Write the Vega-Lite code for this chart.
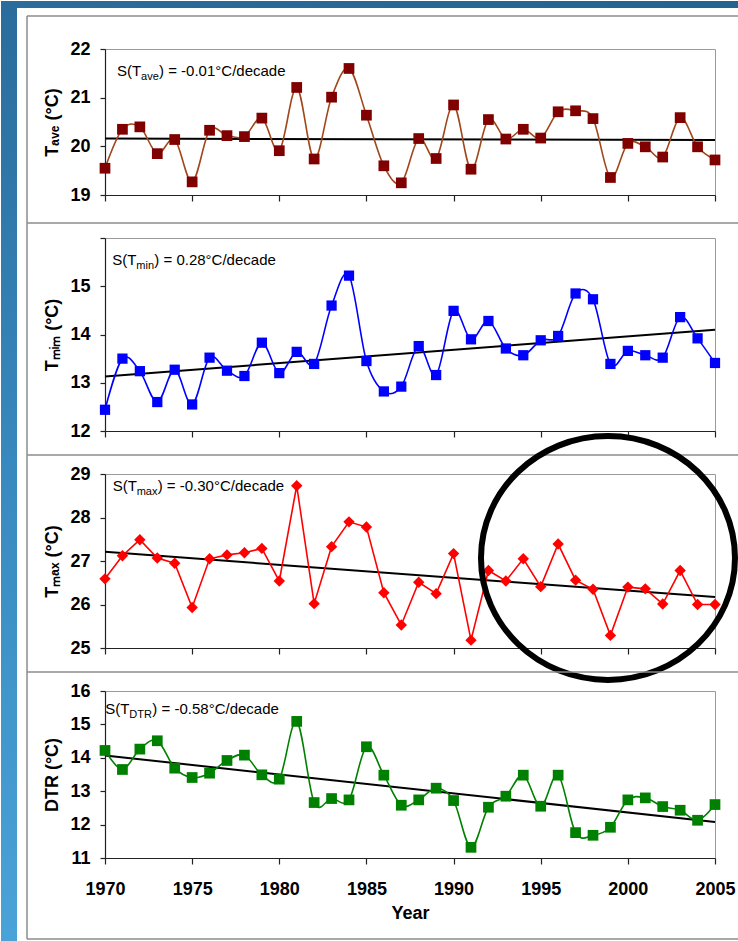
{
  "$schema": "https://vega.github.io/schema/vega-lite/v6.json",
  "padding": 0,
  "autosize": {"type": "pad"},
  "background": "white",
  "bounds": "flush",
  "spacing": 43,
  "config": {
    "font": "Liberation Sans",
    "view": {"stroke": "#9a9a9a", "strokeWidth": 1},
    "axis": {
      "labelFont": "Liberation Sans", "labelFontWeight": "bold", "labelFontSize": 18, "labelColor": "black",
      "titleFont": "Liberation Sans", "titleFontWeight": "bold", "titleFontSize": 18, "titleColor": "black",
      "gridColor": "#c8c8c8", "gridWidth": 1.2, "domainColor": "#222222", "domainWidth": 1.2,
      "tickColor": "#222222", "tickWidth": 1.2, "tickSize": 5,
      "labelOverlap": false, "labelFlush": false, "labelBound": false
    },
    "axisY": {"labelPadding": 10, "titlePadding": 8},
    "text": {"font": "Liberation Sans", "color": "black"}
  },
  "datasets": {
    "series": [
      {"year": 1970, "Tave": 19.55, "Tmin": 12.44, "Tmax": 26.59, "DTR": 14.22},
      {"year": 1971, "Tave": 20.35, "Tmin": 13.50, "Tmax": 27.12, "DTR": 13.65},
      {"year": 1972, "Tave": 20.40, "Tmin": 13.24, "Tmax": 27.49, "DTR": 14.26},
      {"year": 1973, "Tave": 19.85, "Tmin": 12.60, "Tmax": 27.07, "DTR": 14.51},
      {"year": 1974, "Tave": 20.14, "Tmin": 13.27, "Tmax": 26.95, "DTR": 13.69},
      {"year": 1975, "Tave": 19.27, "Tmin": 12.55, "Tmax": 25.93, "DTR": 13.41},
      {"year": 1976, "Tave": 20.33, "Tmin": 13.52, "Tmax": 27.05, "DTR": 13.54},
      {"year": 1977, "Tave": 20.22, "Tmin": 13.25, "Tmax": 27.14, "DTR": 13.92},
      {"year": 1978, "Tave": 20.20, "Tmin": 13.14, "Tmax": 27.19, "DTR": 14.08},
      {"year": 1979, "Tave": 20.58, "Tmin": 13.83, "Tmax": 27.29, "DTR": 13.49},
      {"year": 1980, "Tave": 19.91, "Tmin": 13.20, "Tmax": 26.54, "DTR": 13.36},
      {"year": 1981, "Tave": 21.21, "Tmin": 13.64, "Tmax": 28.73, "DTR": 15.09},
      {"year": 1982, "Tave": 19.74, "Tmin": 13.39, "Tmax": 26.02, "DTR": 12.66},
      {"year": 1983, "Tave": 21.01, "Tmin": 14.60, "Tmax": 27.33, "DTR": 12.78},
      {"year": 1984, "Tave": 21.60, "Tmin": 15.22, "Tmax": 27.90, "DTR": 12.74},
      {"year": 1985, "Tave": 20.64, "Tmin": 13.45, "Tmax": 27.78, "DTR": 14.33},
      {"year": 1986, "Tave": 19.60, "Tmin": 12.82, "Tmax": 26.27, "DTR": 13.48},
      {"year": 1987, "Tave": 19.25, "Tmin": 12.92, "Tmax": 25.53, "DTR": 12.58},
      {"year": 1988, "Tave": 20.16, "Tmin": 13.76, "Tmax": 26.51, "DTR": 12.74},
      {"year": 1989, "Tave": 19.75, "Tmin": 13.16, "Tmax": 26.25, "DTR": 13.09},
      {"year": 1990, "Tave": 20.85, "Tmin": 14.49, "Tmax": 27.17, "DTR": 12.72},
      {"year": 1991, "Tave": 19.53, "Tmin": 13.90, "Tmax": 25.18, "DTR": 11.32},
      {"year": 1992, "Tave": 20.55, "Tmin": 14.28, "Tmax": 26.78, "DTR": 12.52},
      {"year": 1993, "Tave": 20.15, "Tmin": 13.71, "Tmax": 26.54, "DTR": 12.85},
      {"year": 1994, "Tave": 20.35, "Tmin": 13.57, "Tmax": 27.05, "DTR": 13.48},
      {"year": 1995, "Tave": 20.17, "Tmin": 13.88, "Tmax": 26.41, "DTR": 12.55},
      {"year": 1996, "Tave": 20.71, "Tmin": 13.97, "Tmax": 27.39, "DTR": 13.48},
      {"year": 1997, "Tave": 20.73, "Tmin": 14.85, "Tmax": 26.56, "DTR": 11.76},
      {"year": 1998, "Tave": 20.57, "Tmin": 14.73, "Tmax": 26.35, "DTR": 11.68},
      {"year": 1999, "Tave": 19.36, "Tmin": 13.39, "Tmax": 25.29, "DTR": 11.92},
      {"year": 2000, "Tave": 20.06, "Tmin": 13.66, "Tmax": 26.40, "DTR": 12.74},
      {"year": 2001, "Tave": 19.99, "Tmin": 13.57, "Tmax": 26.36, "DTR": 12.80},
      {"year": 2002, "Tave": 19.78, "Tmin": 13.52, "Tmax": 26.01, "DTR": 12.54},
      {"year": 2003, "Tave": 20.59, "Tmin": 14.36, "Tmax": 26.78, "DTR": 12.43},
      {"year": 2004, "Tave": 19.99, "Tmin": 13.92, "Tmax": 26.00, "DTR": 12.13},
      {"year": 2005, "Tave": 19.72, "Tmin": 13.41, "Tmax": 26.00, "DTR": 12.60}
    ],
    "trend": [
      {"year": 1970, "Tave": 20.16, "Tmin": 13.13, "Tmax": 27.21, "DTR": 14.07},
      {"year": 2005, "Tave": 20.13, "Tmin": 14.10, "Tmax": 26.17, "DTR": 12.08}
    ]
  },
  "vconcat": [
    {
      "width": 610, "height": 146,
      "layer": [
        {"data": {"values": [{}]},
         "mark": {"type": "rect", "fill": {"gradient": "linear", "x1": 0, "y1": 0, "x2": 0, "y2": 1, "stops": [{"offset": 0, "color": "#2a6c9b"}, {"offset": 0.5, "color": "#3889bf"}, {"offset": 1, "color": "#4aa3d8"}]}},
         "encoding": {"x": {"datum": 1964.033, "scale": {"domain": [1970, 2005], "nice": false, "zero": false}}, "x2": {"datum": 1964.951},
                      "y": {"datum": 22.9863, "scale": {"domain": [19, 22], "nice": false, "zero": false}}, "y2": {"datum": 3.672}}},
        {"data": {"values": [{}]},
         "mark": {"type": "rect", "fill": {"gradient": "linear", "x1": 0, "y1": 0, "x2": 1, "y2": 0, "stops": [{"offset": 0, "color": "#2a6c9b"}, {"offset": 1, "color": "#226391"}]}},
         "encoding": {"x": {"datum": 1964.033, "scale": {"domain": [1970, 2005], "nice": false, "zero": false}}, "x2": {"datum": 2006.35},
                      "y": {"datum": 22.9863, "scale": {"domain": [19, 22], "nice": false, "zero": false}}, "y2": {"datum": 22.8425}}},
        {"data": {"values": [{}]}, "mark": {"type": "rule", "color": "#8c8c8c", "strokeWidth": 1.5},
         "encoding": {"x": {"datum": 1965.525, "scale": {"domain": [1970, 2005], "nice": false, "zero": false}}, "x2": {"datum": 2006.35},
                      "y": {"datum": 22.678, "scale": {"domain": [19, 22], "nice": false, "zero": false}}}},
        {"data": {"values": [{}]}, "mark": {"type": "rule", "color": "#8c8c8c", "strokeWidth": 1.5},
         "encoding": {"x": {"datum": 1965.525, "scale": {"domain": [1970, 2005], "nice": false, "zero": false}},
                      "y": {"datum": 22.678, "scale": {"domain": [19, 22], "nice": false, "zero": false}}, "y2": {"datum": 18.425}}},
        {"data": {"name": "trend"}, "mark": {"type": "line", "color": "black", "strokeWidth": 2},
         "encoding": {
           "x": {"field": "year", "type": "quantitative", "scale": {"domain": [1970, 2005], "nice": false, "zero": false},
                 "axis": {"values": [1970, 1975, 1980, 1985, 1990, 1995, 2000, 2005], "tickCount": 20, "labels": false, "title": null, "tickSize": 6}},
           "y": {"field": "Tave", "type": "quantitative", "scale": {"domain": [19, 22], "nice": false, "zero": false},
                 "axis": {"values": [19, 20, 21, 22], "tickCount": 20, "format": "d", "labelOverlap": false, "title": "Tₐᵥₑ (°C)"}}}},
        {"data": {"name": "series"},
         "mark": {"type": "line", "interpolate": "cardinal", "color": "#a0461a", "strokeWidth": 1.6,
                  "point": {"shape": "square", "filled": true, "size": 115, "color": "#800000", "opacity": 1}},
         "encoding": {
           "x": {"field": "year", "type": "quantitative", "scale": {"domain": [1970, 2005], "nice": false, "zero": false},
                 "axis": {"values": [1970, 1975, 1980, 1985, 1990, 1995, 2000, 2005], "tickCount": 20, "labels": false, "title": null, "tickSize": 6}},
           "y": {"field": "Tave", "type": "quantitative", "scale": {"domain": [19, 22], "nice": false, "zero": false},
                 "axis": {"values": [19, 20, 21, 22], "tickCount": 20, "format": "d", "labelOverlap": false, "title": "Tₐᵥₑ (°C)"}}}},
        {"data": {"values": [{}]}, "mark": {"type": "text", "text": "S(T", "align": "left", "baseline": "alphabetic", "fontSize": 15},
         "encoding": {"x": {"datum": 1970.69}, "y": {"datum": 21.445}}},
        {"data": {"values": [{}]}, "mark": {"type": "text", "text": "ave", "align": "left", "baseline": "alphabetic", "fontSize": 11, "dx": 24, "dy": 4},
         "encoding": {"x": {"datum": 1970.69}, "y": {"datum": 21.445}}},
        {"data": {"values": [{}]}, "mark": {"type": "text", "text": ") = -0.01°C/decade", "align": "left", "baseline": "alphabetic", "fontSize": 15, "dx": 42},
         "encoding": {"x": {"datum": 1970.69}, "y": {"datum": 21.445}}}
      ]
    },
    {
      "width": 610, "height": 193,
      "layer": [
        {"data": {"values": [{}]}, "mark": {"type": "rule", "color": "#8c8c8c", "strokeWidth": 1.5},
         "encoding": {"x": {"datum": 1965.525, "scale": {"domain": [1970, 2005], "nice": false, "zero": false}}, "x2": {"datum": 2006.35},
                      "y": {"datum": 16.311, "scale": {"domain": [12, 16], "nice": false, "zero": false}}}},
        {"data": {"values": [{}]}, "mark": {"type": "rule", "color": "#8c8c8c", "strokeWidth": 1.5},
         "encoding": {"x": {"datum": 1965.525, "scale": {"domain": [1970, 2005], "nice": false, "zero": false}},
                      "y": {"datum": 16.311, "scale": {"domain": [12, 16], "nice": false, "zero": false}}, "y2": {"datum": 11.503}}},
        {"data": {"name": "trend"}, "mark": {"type": "line", "color": "black", "strokeWidth": 2},
         "encoding": {
           "x": {"field": "year", "type": "quantitative", "scale": {"domain": [1970, 2005], "nice": false, "zero": false},
                 "axis": {"values": [1970, 1975, 1980, 1985, 1990, 1995, 2000, 2005], "tickCount": 20, "labels": false, "title": null, "tickSize": 6}},
           "y": {"field": "Tmin", "type": "quantitative", "scale": {"domain": [12, 16], "nice": false, "zero": false},
                 "axis": {"values": [12, 13, 14, 15, 16], "tickCount": 20, "format": "d", "labelOverlap": false, "labelExpr": "datum.value == 16 ? '' : datum.label", "title": "Tₘᵢₘ (°C)"}}}},
        {"data": {"name": "series"},
         "mark": {"type": "line", "interpolate": "cardinal", "color": "#0000ff", "strokeWidth": 1.6,
                  "point": {"shape": "square", "filled": true, "size": 105, "color": "#0000ff", "opacity": 1}},
         "encoding": {
           "x": {"field": "year", "type": "quantitative", "scale": {"domain": [1970, 2005], "nice": false, "zero": false},
                 "axis": {"values": [1970, 1975, 1980, 1985, 1990, 1995, 2000, 2005], "tickCount": 20, "labels": false, "title": null, "tickSize": 6}},
           "y": {"field": "Tmin", "type": "quantitative", "scale": {"domain": [12, 16], "nice": false, "zero": false},
                 "axis": {"values": [12, 13, 14, 15, 16], "tickCount": 20, "format": "d", "labelOverlap": false, "labelExpr": "datum.value == 16 ? '' : datum.label", "title": "Tₘᵢₘ (°C)"}}}},
        {"data": {"values": [{}]}, "mark": {"type": "text", "text": "S(T", "align": "left", "baseline": "alphabetic", "fontSize": 15},
         "encoding": {"x": {"datum": 1970.42}, "y": {"datum": 15.436}}},
        {"data": {"values": [{}]}, "mark": {"type": "text", "text": "min", "align": "left", "baseline": "alphabetic", "fontSize": 11, "dx": 24, "dy": 4},
         "encoding": {"x": {"datum": 1970.42}, "y": {"datum": 15.436}}},
        {"data": {"values": [{}]}, "mark": {"type": "text", "text": ") = 0.28°C/decade", "align": "left", "baseline": "alphabetic", "fontSize": 15, "dx": 42},
         "encoding": {"x": {"datum": 1970.42}, "y": {"datum": 15.436}}}
      ]
    },
    {
      "width": 610, "height": 174,
      "layer": [
        {"data": {"values": [{}]}, "mark": {"type": "rule", "color": "#8c8c8c", "strokeWidth": 1.5},
         "encoding": {"x": {"datum": 1965.525, "scale": {"domain": [1970, 2005], "nice": false, "zero": false}}, "x2": {"datum": 2006.35},
                      "y": {"datum": 29.437, "scale": {"domain": [25, 29], "nice": false, "zero": false}}}},
        {"data": {"values": [{}]}, "mark": {"type": "rule", "color": "#8c8c8c", "strokeWidth": 1.5},
         "encoding": {"x": {"datum": 1965.525, "scale": {"domain": [1970, 2005], "nice": false, "zero": false}},
                      "y": {"datum": 29.437, "scale": {"domain": [25, 29], "nice": false, "zero": false}}, "y2": {"datum": 24.448}}},
        {"data": {"name": "trend"}, "mark": {"type": "line", "color": "black", "strokeWidth": 2},
         "encoding": {
           "x": {"field": "year", "type": "quantitative", "scale": {"domain": [1970, 2005], "nice": false, "zero": false},
                 "axis": {"values": [1970, 1975, 1980, 1985, 1990, 1995, 2000, 2005], "tickCount": 20, "labels": false, "title": null, "tickSize": 6}},
           "y": {"field": "Tmax", "type": "quantitative", "scale": {"domain": [25, 29], "nice": false, "zero": false},
                 "axis": {"values": [25, 26, 27, 28, 29], "tickCount": 20, "format": "d", "labelOverlap": false, "title": "Tₘₐₓ (°C)"}}}},
        {"data": {"name": "series"},
         "mark": {"type": "line", "color": "#ff0000", "strokeWidth": 1.6,
                  "point": {"shape": "diamond", "filled": true, "size": 130, "color": "#ff0000", "opacity": 1}},
         "encoding": {
           "x": {"field": "year", "type": "quantitative", "scale": {"domain": [1970, 2005], "nice": false, "zero": false},
                 "axis": {"values": [1970, 1975, 1980, 1985, 1990, 1995, 2000, 2005], "tickCount": 20, "labels": false, "title": null, "tickSize": 6}},
           "y": {"field": "Tmax", "type": "quantitative", "scale": {"domain": [25, 29], "nice": false, "zero": false},
                 "axis": {"values": [25, 26, 27, 28, 29], "tickCount": 20, "format": "d", "labelOverlap": false, "title": "Tₘₐₓ (°C)"}}}},
        {"data": {"values": [{}]}, "mark": {"type": "text", "text": "S(T", "align": "left", "baseline": "alphabetic", "fontSize": 15},
         "encoding": {"x": {"datum": 1970.44}, "y": {"datum": 28.6}}},
        {"data": {"values": [{}]}, "mark": {"type": "text", "text": "max", "align": "left", "baseline": "alphabetic", "fontSize": 11, "dx": 24, "dy": 4},
         "encoding": {"x": {"datum": 1970.44}, "y": {"datum": 28.6}}},
        {"data": {"values": [{}]}, "mark": {"type": "text", "text": ") = -0.30°C/decade", "align": "left", "baseline": "alphabetic", "fontSize": 15, "dx": 45},
         "encoding": {"x": {"datum": 1970.44}, "y": {"datum": 28.6}}},
        {"data": {"values": [{}]},
         "mark": {"type": "point", "shape": "M -1 0 A 1 0.96 0 1 1 1 0 A 1 0.96 0 1 1 -1 0 Z", "filled": false, "size": 64516, "color": "black", "strokeWidth": 6, "opacity": 1},
         "encoding": {"x": {"datum": 1998.86}, "y": {"datum": 27.07}}}
      ]
    },
    {
      "width": 610, "height": 167,
      "layer": [
        {"data": {"values": [{}]}, "mark": {"type": "rule", "color": "#8c8c8c", "strokeWidth": 1.5},
         "encoding": {"x": {"datum": 1965.525, "scale": {"domain": [1970, 2005], "nice": false, "zero": false}}, "x2": {"datum": 2006.35},
                      "y": {"datum": 16.569, "scale": {"domain": [11, 16], "nice": false, "zero": false}}}},
        {"data": {"values": [{}]}, "mark": {"type": "rule", "color": "#8c8c8c", "strokeWidth": 1.5},
         "encoding": {"x": {"datum": 1965.525, "scale": {"domain": [1970, 2005], "nice": false, "zero": false}}, "x2": {"datum": 2006.35},
                      "y": {"datum": 8.575, "scale": {"domain": [11, 16], "nice": false, "zero": false}}}},
        {"data": {"values": [{}]}, "mark": {"type": "rule", "color": "#8c8c8c", "strokeWidth": 1.5},
         "encoding": {"x": {"datum": 1965.525, "scale": {"domain": [1970, 2005], "nice": false, "zero": false}},
                      "y": {"datum": 16.569, "scale": {"domain": [11, 16], "nice": false, "zero": false}}, "y2": {"datum": 8.575}}},
        {"data": {"name": "trend"}, "mark": {"type": "line", "color": "black", "strokeWidth": 2},
         "encoding": {
           "x": {"field": "year", "type": "quantitative", "scale": {"domain": [1970, 2005], "nice": false, "zero": false},
                 "axis": {"values": [1970, 1975, 1980, 1985, 1990, 1995, 2000, 2005], "tickCount": 20, "labelOverlap": false, "format": "d", "title": "Year", "tickSize": 6, "labelPadding": 16, "titlePadding": 6}},
           "y": {"field": "DTR", "type": "quantitative", "scale": {"domain": [11, 16], "nice": false, "zero": false},
                 "axis": {"values": [11, 12, 13, 14, 15, 16], "tickCount": 20, "format": "d", "labelOverlap": false, "title": "DTR (°C)"}}}},
        {"data": {"name": "series"},
         "mark": {"type": "line", "interpolate": "cardinal", "color": "#008000", "strokeWidth": 1.6,
                  "point": {"shape": "square", "filled": true, "size": 115, "color": "#008000", "opacity": 1}},
         "encoding": {
           "x": {"field": "year", "type": "quantitative", "scale": {"domain": [1970, 2005], "nice": false, "zero": false},
                 "axis": {"values": [1970, 1975, 1980, 1985, 1990, 1995, 2000, 2005], "tickCount": 20, "labelOverlap": false, "format": "d", "title": "Year", "tickSize": 6, "labelPadding": 16, "titlePadding": 6}},
           "y": {"field": "DTR", "type": "quantitative", "scale": {"domain": [11, 16], "nice": false, "zero": false},
                 "axis": {"values": [11, 12, 13, 14, 15, 16], "tickCount": 20, "format": "d", "labelOverlap": false, "title": "DTR (°C)"}}}},
        {"data": {"values": [{}]}, "mark": {"type": "text", "text": "S(T", "align": "left", "baseline": "alphabetic", "fontSize": 15},
         "encoding": {"x": {"datum": 1970.02}, "y": {"datum": 15.3}}},
        {"data": {"values": [{}]}, "mark": {"type": "text", "text": "DTR", "align": "left", "baseline": "alphabetic", "fontSize": 11, "dx": 24, "dy": 4},
         "encoding": {"x": {"datum": 1970.02}, "y": {"datum": 15.3}}},
        {"data": {"values": [{}]}, "mark": {"type": "text", "text": ") = -0.58°C/decade", "align": "left", "baseline": "alphabetic", "fontSize": 15, "dx": 47},
         "encoding": {"x": {"datum": 1970.02}, "y": {"datum": 15.3}}}
      ]
    }
  ]
}
